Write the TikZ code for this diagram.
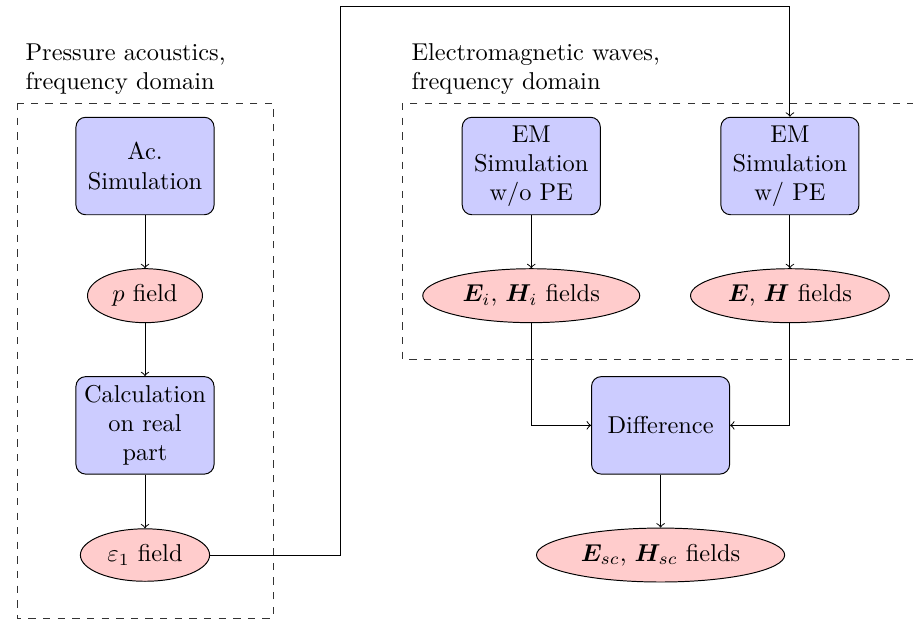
\documentclass[tikz,border=0pt]{standalone}
\usepackage{bm}
\usetikzlibrary{shapes.geometric,positioning}

\begin{document}
\begin{tikzpicture}[->,>=to,auto,node distance=1.87cm,
  sim node/.style={rectangle,rounded corners,draw,fill=blue!20,text width=5em,align=center,minimum height=4em},
  field node/.style={ellipse,draw,fill=red!20},
  group box/.style={-,dashed,draw=black!80}]

            \useasboundingbox (-2.091,2.394) rectangle (11.075,-6.532);

            \node[sim node] (1) []{Ac.\\ Simulation};
            \node[field node] (2) [below of = 1]{$p$ field};
            \node[sim node] (3) [below of = 2]{Calculation\\ on real\\ part};
            \node[field node] (4) [below of = 3]{$\varepsilon_1$ field};

            \node[sim node] (5) at (5.57,0) {EM\\ Simulation\\ w/o PE};
            \node[sim node] (6) at (9.30,0) {EM\\ Simulation\\ w/ PE};
            \node[field node] (7) [below of = 5]{$\bm{E}_i$, $\bm{H}_i$ fields};
            \node[field node] (8) [below of = 6]{$\bm{E}$, $\bm{H}$ fields};
            \node[sim node] (9) at (7.435,-3.74) {Difference};
            \node[field node] (10) [below of = 9]{$\bm{E}_{sc}$, $\bm{H}_{sc}$ fields};

            \draw[group box] (-1.846,0.908) rectangle (1.846,-6.518);
            \draw[group box] (3.72,0.908) rectangle (11.4,-2.797);
            \node[anchor=south west, align=left] (acl) at (-1.846,0.908) {Pressure acoustics,\\ frequency domain};
            \node[anchor=south west, align=left] (eml) at (3.72,0.908) {Electromagnetic waves,\\ frequency domain};

            \coordinate (top) at (2.812,2.307);

            \draw (1) to (2);
            \draw (2) to (3);
            \draw (3) to (4);
            \draw (4) -| (top) -| (6);
            \draw (5) to (7);
            \draw (6) to (8);
            \draw (7) |- (9);
            \draw (8) |- (9);
            \draw (9) to (10);

            ;
        \end{tikzpicture}
\end{document}
